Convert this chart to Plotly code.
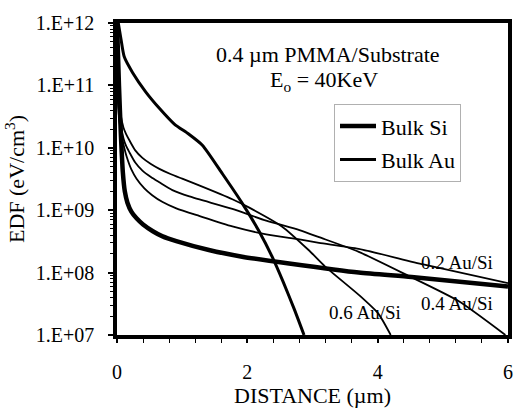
import plotly.graph_objects as go

# ---- data ----
bulk_si_x = [0.0, 0.03, 0.06, 0.09, 0.12, 0.16, 0.22, 0.30, 0.40, 0.55, 0.70, 0.91, 1.41, 1.92, 2.64, 3.71, 4.52, 6.0]
bulk_si_y = [1.0e12, 1.0e11, 1.6e10, 4.0e9, 2.0e9, 1.32e9, 9.5e8, 7.4e8, 5.9e8, 4.6e8, 3.8e8, 3.2e8, 2.3e8, 1.8e8, 1.4e8, 1.0e8, 8.5e7, 6.0e7]

bulk_au_x = [0.02, 0.06, 0.11, 0.24, 0.44, 0.65, 0.88, 1.10, 1.31, 1.62, 1.92, 2.18, 2.38, 2.55, 2.72, 2.87]
bulk_au_y = [1.0e12, 5.6e11, 2.9e11, 1.6e11, 7.9e10, 4.3e10, 2.4e10, 1.66e10, 1.1e10, 3.8e9, 1.3e9, 4.6e8, 1.8e8, 7.1e7, 2.6e7, 1.0e7]

au06_x = [0.01, 0.03, 0.06, 0.10, 0.14, 0.19, 0.28, 0.39, 0.52, 0.65, 0.82, 1.00, 1.26, 1.77, 2.03, 2.53, 2.94, 3.19, 3.71, 4.01, 4.20]
au06_y = [1.0e11, 5.6e10, 3.2e10, 2.1e10, 1.66e10, 1.32e10, 9.1e9, 6.9e9, 5.5e9, 4.6e9, 3.8e9, 3.2e9, 2.5e9, 1.5e9, 1.1e9, 5.5e8, 2.3e8, 1.26e8, 4.4e7, 2.2e7, 1.0e7]

au04_x = [0.01, 0.03, 0.06, 0.10, 0.14, 0.19, 0.28, 0.39, 0.52, 0.65, 0.85, 1.11, 1.77, 2.29, 2.80, 3.10, 3.71, 4.47, 5.24, 5.96]
au04_y = [7.9e10, 4.0e10, 2.24e10, 1.41e10, 1.07e10, 8.5e9, 5.8e9, 4.3e9, 3.4e9, 2.8e9, 2.1e9, 1.66e9, 1.05e9, 6.8e8, 4.8e8, 3.7e8, 2.15e8, 8.9e7, 3.5e7, 1.0e7]

au02_x = [0.01, 0.03, 0.06, 0.10, 0.15, 0.22, 0.30, 0.42, 0.54, 0.70, 0.91, 1.26, 1.77, 2.29, 2.80, 3.10, 3.71, 4.70, 6.0]
au02_y = [6.3e10, 3.2e10, 1.78e10, 1.12e10, 7.1e9, 4.5e9, 3.2e9, 2.24e9, 1.74e9, 1.35e9, 1.07e9, 8.1e8, 5.5e8, 4.1e8, 3.4e8, 3.0e8, 2.4e8, 1.35e8, 6.8e7]

y_tickvals = [1e7, 1e8, 1e9, 1e10, 1e11, 1e12]
y_ticktext = ["1.E+07", "1.E+08", "1.E+09", "1.E+10", "1.E+11", "1.E+12"]
y_minor = [m * 10 ** e for e in range(7, 12) for m in range(2, 10)]
x_tickvals = [0, 2, 4, 6]
x_ticktext = ["0", "2", "4", "6"]

FONT = "Liberation Serif"

fig = go.Figure()
fig.add_trace(go.Scatter(x=bulk_si_x, y=bulk_si_y, mode="lines", name="Bulk Si",
                         line=dict(color="black", width=4.5, shape="spline", smoothing=0.6),
                         legendgroup="a"))
fig.add_trace(go.Scatter(x=bulk_au_x, y=bulk_au_y, mode="lines", name="Bulk Au",
                         line=dict(color="black", width=3, shape="spline", smoothing=0.6),
                         legendgroup="b"))
for xs, ys, nm in [(au06_x, au06_y, "0.6 Au/Si"), (au04_x, au04_y, "0.4 Au/Si"), (au02_x, au02_y, "0.2 Au/Si")]:
    fig.add_trace(go.Scatter(x=xs, y=ys, mode="lines", name=nm, showlegend=False,
                             line=dict(color="black", width=1.8, shape="spline", smoothing=0.6)))

ann_font = dict(family=FONT, size=19, color="black")
fig.add_annotation(x=5.21, y=8.16, text="0.2 Au/Si", showarrow=False, font=ann_font)
fig.add_annotation(x=5.21, y=7.50, text="0.4 Au/Si", showarrow=False, font=ann_font)
fig.add_annotation(x=3.81, y=7.36, text="0.6 Au/Si", showarrow=False, font=ann_font)
fig.add_annotation(x=3.24, y=11.49, text="0.4 µm PMMA/Substrate", showarrow=False,
                   font=dict(family=FONT, size=22, color="black"))
fig.add_annotation(x=3.17, y=11.07, text="E<sub>o</sub> = 40KeV", showarrow=False,
                   font=dict(family=FONT, size=22, color="black"))

fig.update_layout(
    width=525, height=414,
    margin=dict(l=117, r=14, t=15, b=72),
    paper_bgcolor="white", plot_bgcolor="white",
    font=dict(family=FONT, size=20, color="black"),
    showlegend=True,
    legend=dict(x=0.555, y=0.74, xanchor="left", yanchor="top",
                bgcolor="white", bordercolor="#b0b0b0", borderwidth=1,
                font=dict(family=FONT, size=22, color="black"),
                tracegroupgap=2, itemwidth=36),
    xaxis=dict(range=[0, 6], tickvals=x_tickvals, ticktext=x_ticktext,
               showgrid=False, zeroline=False, showline=True, linewidth=3.5,
               linecolor="black", mirror=True, ticks="outside", ticklen=4,
               tickwidth=1.5, tickcolor="black", ticklabelstandoff=12,
               minor=dict(dtick=0.4, tick0=0, ticks="outside", ticklen=4,
                          tickwidth=1, tickcolor="black", showgrid=False),
               title=dict(text="DISTANCE (µm)", font=dict(family=FONT, size=22), standoff=4),
               tickfont=dict(family=FONT, size=20)),
    yaxis=dict(type="log", range=[7, 12], tickvals=y_tickvals, ticktext=y_ticktext,
               showgrid=False, zeroline=False, showline=True, linewidth=3.5,
               linecolor="black", mirror=True, ticks="outside", ticklen=5,
               tickwidth=1.5, tickcolor="black", ticklabelstandoff=10,
               minor=dict(tickvals=y_minor, ticks="outside", ticklen=3,
                          tickwidth=1, tickcolor="black", showgrid=False),
               title=dict(text="EDF (eV/cm<sup>3</sup>)", font=dict(family=FONT, size=22), standoff=6),
               tickfont=dict(family=FONT, size=20)),
)

fig.write_html("out.html")
